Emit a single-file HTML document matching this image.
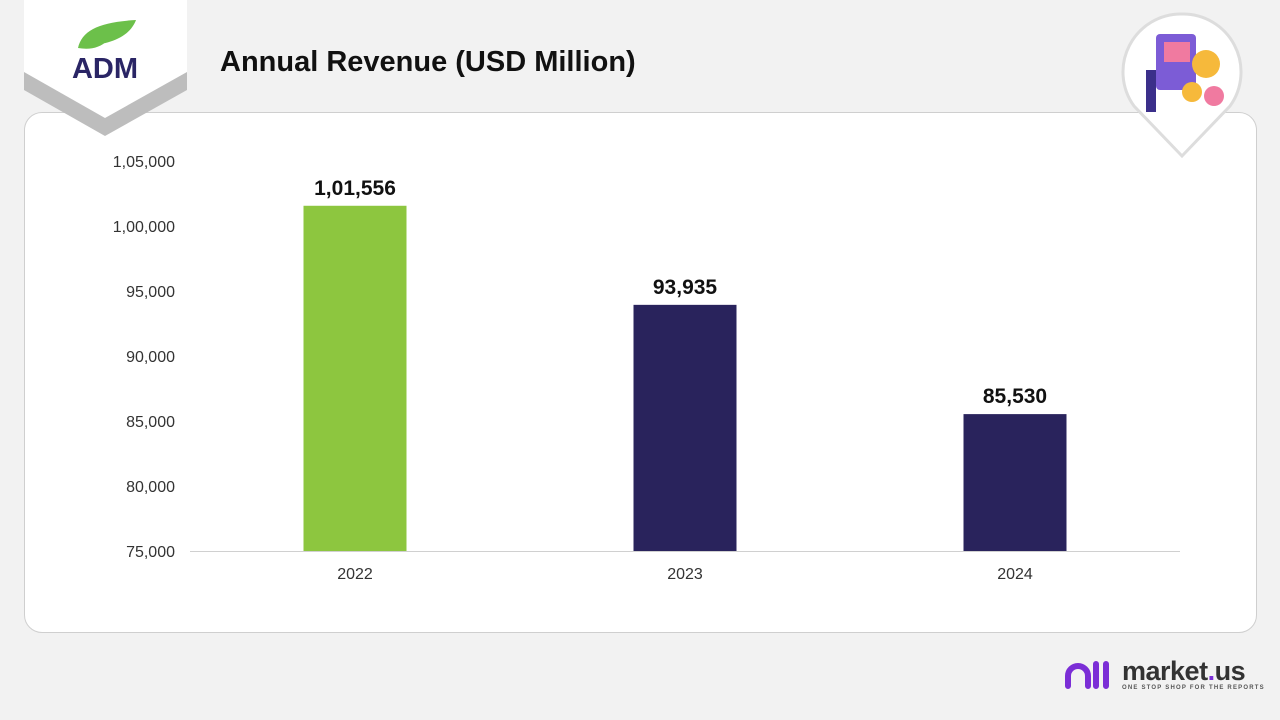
<!DOCTYPE html>
<html><head><meta charset="utf-8"><style>
body{margin:0;width:1280px;height:720px;background:#f2f2f2;font-family:"Liberation Sans",sans-serif;overflow:hidden;position:relative}
.card{position:absolute;left:24px;top:112px;width:1231px;height:519px;background:#fff;border:1px solid #cfcfcf;border-radius:18px}
.title{position:absolute;left:220px;top:46px;font-size:29px;font-weight:bold;color:#111}
</style></head><body>
<div class="card"></div>
<svg width="200" height="140" style="position:absolute;left:0;top:0">
<polygon points="24,20 187,20 187,90 105,136 24,90" fill="#bdbdbd"/>
<polygon points="24,0 187,0 187,72 105,118 24,72" fill="#fff"/>
<path d="M78,48 C82,30 100,22 136,20 C130,36 112,44 86,46 L108,40 C100,48 90,50 78,48Z" fill="#6cc04a"/>
<text x="105" y="78" text-anchor="middle" font-size="29" font-weight="bold" fill="#2a2565" font-family="Liberation Sans">ADM</text>
</svg>
<div class="title">Annual Revenue (USD Million)</div>
<svg width="130" height="160" style="position:absolute;left:1120px;top:10px">
<path d="M62,4 A58,58 0 0 1 110,96 L62,146 L14,96 A58,58 0 0 1 62,4Z" fill="#fff" stroke="#ddd" stroke-width="3"/>
<rect x="36" y="24" width="40" height="56" rx="4" fill="#7c5cd6"/>
<rect x="44" y="32" width="26" height="20" fill="#f07aa0"/>
<circle cx="86" cy="54" r="14" fill="#f6b93b"/><circle cx="72" cy="82" r="10" fill="#f6b93b"/>
<circle cx="94" cy="86" r="10" fill="#f07aa0"/>
<rect x="26" y="60" width="10" height="42" fill="#3b2f8a"/>
</svg>
<svg id="chart" width="1280" height="720" style="position:absolute;left:0;top:0"></svg>
<div style="position:absolute;left:1064px;top:660px">
<svg width="50" height="34" style="position:absolute;left:0;top:0"><path d="M4,26 L4,16 A10,10 0 0 1 24,16 L24,26 M32,4 L32,26 M42,4 L42,26" stroke="#7b2ed6" stroke-width="6" fill="none" stroke-linecap="round"/></svg>
<div style="position:absolute;left:58px;top:-4px;font-size:27px;font-weight:bold;color:#333;letter-spacing:-0.5px">market<span style="color:#7b2ed6">.</span>us</div>
<div style="position:absolute;left:58px;top:25px;font-size:6px;color:#555;letter-spacing:1.2px;white-space:nowrap;font-weight:bold">ONE STOP SHOP FOR THE REPORTS</div>
</div>
<script>
const categories=["2022","2023","2024"];
const values=[101556,93935,85530];
const labels=["1,01,556","93,935","85,530"];
const colors=["#8dc63f","#29235c","#29235c"];
const ticks=[75000,80000,85000,90000,95000,100000,105000];
const tickLabels=["75,000","80,000","85,000","90,000","95,000","1,00,000","1,05,000"];
const svg=document.getElementById('chart');
const NS="http://www.w3.org/2000/svg";
const y=v=>551-(v-75000)*390/30000;
const x=i=>190+(i+0.5)*330;
function mk(t,a){const e=document.createElementNS(NS,t);for(const k in a)e.setAttribute(k,a[k]);svg.appendChild(e);return e;}
ticks.forEach((t,i)=>{const e=mk('text',{x:175,y:y(t)+6,'text-anchor':'end','font-size':16,fill:'#333'});e.textContent=tickLabels[i];

});
const ax=mk('line',{x1:190,x2:1180,y1:551.5,y2:551.5,stroke:'#d0d0d0'});


values.forEach((v,i)=>{
const r=mk('rect',{x:x(i)-51.5,y:y(v),width:103,height:551-y(v),fill:colors[i]});


const l=mk('text',{x:x(i),y:y(v)-11,'text-anchor':'middle','font-size':21,'font-weight':'bold',fill:'#111'});l.textContent=labels[i];


const c=mk('text',{x:x(i),y:579,'text-anchor':'middle','font-size':16,fill:'#333'});c.textContent=categories[i];


});
</script>
</body></html>
